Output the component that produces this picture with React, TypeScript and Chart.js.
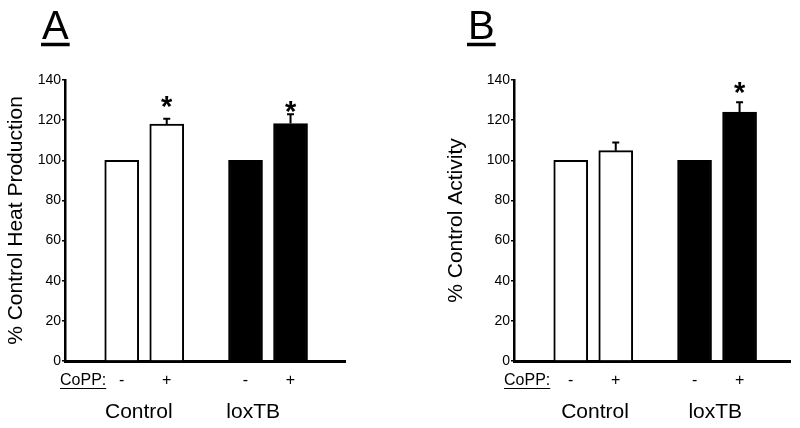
import React, { useEffect, useRef } from 'react';
import { Chart, registerables } from 'chart.js';
Chart.register(...registerables);

const FONT = "'Liberation Sans', Arial, Helvetica, sans-serif";

// ---- data ----
const coppLabels = ['-', '+', '-', '+'];
const groupLabels = ['Control', 'loxTB'];
const yTickValues = [0, 20, 40, 60, 80, 100, 120, 140];
const barColors = ['#ffffff', '#ffffff', '#000000', '#000000'];

const heatValues = [100, 118, 100, 118.3];
const heatErrors = [0, 2.7, 0, 4.6];
const heatStars = [null, 129.2, null, 126.7];

const activityValues = [100, 104.8, 100, 124];
const activityErrors = [0, 4, 0, 4.9];
const activityStars = [null, null, null, 136];

// ---- layout (positions on the linear x scale) ----
const barSlots = [1.26, 2.26, 4.01, 5.01];

type Panel = {
  letter: string;
  yTitle: string;
  values: number[];
  errors: number[];
  stars: (number | null)[];
  groupSlots: number[];
  xMax: number;
  padLeft: number;
  padRight: number;
  yWidth: number;
  letterX: number;
  coppDx: number;
};

const panels: Panel[] = [
  {
    letter: 'A',
    yTitle: '% Control Heat Production',
    values: heatValues,
    errors: heatErrors,
    stars: heatStars,
    groupSlots: [1.64, 4.18],
    xMax: 6.22,
    padLeft: 0,
    padRight: 55,
    yWidth: 65,
    letterX: 42,
    coppDx: -5,
  },
  {
    letter: 'B',
    yTitle: '% Control Activity',
    values: activityValues,
    errors: activityErrors,
    stars: activityStars,
    groupSlots: [1.8, 4.47],
    xMax: 6.13,
    padLeft: 40,
    padRight: 10,
    yWidth: 74,
    letterX: 68,
    coppDx: -10,
  },
];

function PanelChart({ p }: { p: Panel }) {
  const ref = useRef<HTMLCanvasElement | null>(null);
  useEffect(() => {
    if (!ref.current) return;
    const overlay = {
      id: 'overlay',
      afterDraw(chart: any) {
        const ctx = chart.ctx as CanvasRenderingContext2D;
        const xs = chart.scales.x;
        const ys = chart.scales.y;
        const area = chart.chartArea;
        ctx.save();
        // error bars
        ctx.strokeStyle = '#000';
        ctx.lineWidth = 2;
        p.values.forEach((v, i) => {
          const e = p.errors[i];
          if (!e) return;
          const cx = xs.getPixelForValue(barSlots[i]);
          const y0 = ys.getPixelForValue(v);
          const y1 = ys.getPixelForValue(v + e);
          ctx.beginPath();
          ctx.moveTo(cx, y0);
          ctx.lineTo(cx, y1);
          ctx.moveTo(cx - 3.5, y1);
          ctx.lineTo(cx + 3.5, y1);
          ctx.stroke();
        });
        // stars
        ctx.fillStyle = '#000';
        ctx.font = `bold 29px ${FONT}`;
        ctx.textAlign = 'center';
        ctx.textBaseline = 'alphabetic';
        p.stars.forEach((s, i) => {
          if (s == null) return;
          const m = ctx.measureText('*');
          const cx = xs.getPixelForValue(barSlots[i]);
          const cy = ys.getPixelForValue(s);
          const base = cy + (m.actualBoundingBoxAscent - m.actualBoundingBoxDescent) / 2;
          ctx.fillText('*', cx, base);
        });
        // CoPP row
        ctx.font = `16px ${FONT}`;
        ctx.textAlign = 'left';
        const cx0 = area.left + p.coppDx;
        ctx.fillText('CoPP:', cx0, 385);
        const w = ctx.measureText('CoPP:').width;
        ctx.lineWidth = 1.2;
        ctx.beginPath();
        ctx.moveTo(cx0, 388.5);
        ctx.lineTo(cx0 + w, 388.5);
        ctx.stroke();
        ctx.textAlign = 'center';
        coppLabels.forEach((l, i) => {
          ctx.fillText(l, xs.getPixelForValue(barSlots[i]), 385);
        });
        // group labels
        ctx.font = `21px ${FONT}`;
        groupLabels.forEach((g, i) => {
          ctx.fillText(g, xs.getPixelForValue(p.groupSlots[i]), 418);
        });
        // panel letter
        ctx.font = `40px ${FONT}`;
        ctx.textAlign = 'left';
        ctx.fillText(p.letter, p.letterX, 39);
        const lw = ctx.measureText(p.letter).width;
        ctx.lineWidth = 3.5;
        ctx.beginPath();
        ctx.moveTo(p.letterX - 1, 44.5);
        ctx.lineTo(p.letterX + lw + 1, 44.5);
        ctx.stroke();
        ctx.restore();
      },
    };
    const chart = new Chart(ref.current, {
      type: 'bar',
      data: {
        datasets: [
          {
            data: p.values.map((v, i) => ({ x: barSlots[i], y: v })),
            backgroundColor: barColors,
            borderColor: '#000',
            borderWidth: 2,
            barThickness: 34,
          } as any,
        ],
      },
      options: {
        responsive: false,
        animation: false,
        devicePixelRatio: 1,
        layout: { padding: { left: p.padLeft, right: p.padRight, top: 80, bottom: 0 } },
        plugins: { legend: { display: false }, tooltip: { enabled: false } },
        scales: {
          x: {
            type: 'linear',
            min: 0,
            max: p.xMax,
            offset: false,
            z: 1,
            ticks: { display: false },
            grid: { display: false, drawTicks: false, offset: false },
            border: { display: true, color: '#000', width: 3 },
            afterFit: (s: any) => {
              s.height = 67;
            },
          },
          y: {
            min: 0,
            max: 140,
            afterBuildTicks: (s: any) => {
              s.ticks = yTickValues.map((v) => ({ value: v }));
            },
            ticks: { color: '#000', font: { size: 14, family: FONT }, padding: 1 },
            grid: { drawOnChartArea: false, drawTicks: true, tickLength: 3, color: '#000', lineWidth: 1.5 },
            border: { display: true, color: '#000', width: 2.5 },
            title: {
              display: true,
              text: p.yTitle,
              color: '#000',
              font: { size: 21, family: FONT },
              padding: { top: 4, bottom: 0 },
            },
            afterFit: (s: any) => {
              s.width = p.yWidth;
            },
          },
        } as any,
      },
      plugins: [overlay],
    });
    return () => chart.destroy();
  }, [p]);
  return <canvas ref={ref} width={400} height={428} style={{ display: 'block', width: 400, height: 428 }} />;
}

export default function App() {
  return (
    <div style={{ position: 'fixed', left: 0, top: 0, width: 800, height: 428, background: '#fff', display: 'flex' }}>
      {panels.map((p) => (
        <PanelChart key={p.letter} p={p} />
      ))}
    </div>
  );
}
